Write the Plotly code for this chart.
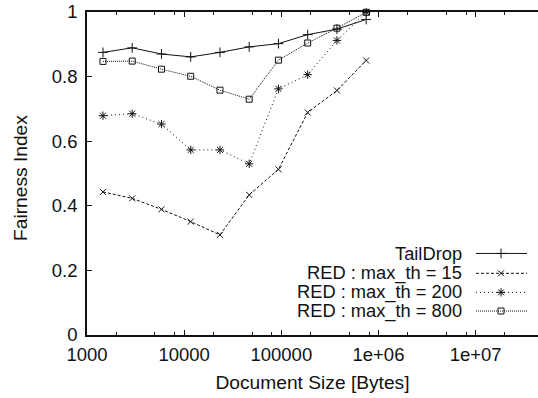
import plotly.graph_objects as go

# ---- data ----
doc_sizes = [1460, 2920, 5840, 11680, 23360, 46720, 93440, 186880, 373760, 747520]
taildrop = [0.875, 0.889, 0.870, 0.861, 0.875, 0.892, 0.902, 0.930, 0.947, 0.977]
red_15 = [0.443, 0.423, 0.389, 0.351, 0.310, 0.434, 0.513, 0.689, 0.757, 0.850]
red_200 = [0.679, 0.685, 0.653, 0.573, 0.573, 0.530, 0.762, 0.806, 0.912, 0.999]
red_800 = [0.847, 0.848, 0.823, 0.801, 0.758, 0.730, 0.851, 0.904, 0.950, 0.999]

series_names = ["TailDrop", "RED : max_th = 15", "RED : max_th = 200", "RED : max_th = 800"]
series_values = [taildrop, red_15, red_200, red_800]
series_dash = ["solid", "3px,2px", "1px,3px", "1px,1px"]
series_symbol = ["cross-thin-open", "x-thin-open", "asterisk-open", "square-open"]
series_msize = [7, 6, 7, 6]

x_tickvals = [1e3, 1e4, 1e5, 1e6, 1e7]
x_ticktext = ["1000", "10000", "100000", "1e+06", "1e+07"]
x_minor = [m * 10 ** e for e in range(3, 8) for m in (2, 5, 8)]
y_tickvals = [0, 0.2, 0.4, 0.6, 0.8, 1]
y_ticktext = ["0", "0.2", "0.4", "0.6", "0.8", "1"]

FONT = "Liberation Sans, Arial, Helvetica, sans-serif"
FS_TICK = 18.5
FS_TEXT = 19.2
FS_KEY = 18.3
BLACK = "#111111"

fig = go.Figure()
for name, vals, dash, sym, ms in zip(series_names, series_values, series_dash, series_symbol, series_msize):
    fig.add_trace(go.Scatter(
        x=doc_sizes, y=vals, mode="lines+markers", name=name, showlegend=False,
        line=dict(color=BLACK, width=1, dash=dash),
        marker=dict(symbol=sym, size=ms, color=BLACK, line=dict(color=BLACK, width=1)),
        cliponaxis=False,
    ))

# ---- gnuplot-style key (text right, sample left) on overlay axes ----
key_text_x = 0.8355
key_x0, key_x1, key_xm = 0.8625, 0.9756, 0.918
key_rows = [0.2525, 0.191, 0.132, 0.0743]
for name, dash, sym, ms, ky in zip(series_names, series_dash, series_symbol, series_msize, key_rows):
    fig.add_trace(go.Scatter(
        x=[key_x0, key_x1], y=[ky, ky], xaxis="x2", yaxis="y2", mode="lines",
        line=dict(color=BLACK, width=1, dash=dash), showlegend=False, hoverinfo="skip"))
    fig.add_trace(go.Scatter(
        x=[key_xm], y=[ky], xaxis="x2", yaxis="y2", mode="markers",
        marker=dict(symbol=sym, size=ms, color=BLACK, line=dict(color=BLACK, width=1)),
        showlegend=False, hoverinfo="skip"))
    fig.add_annotation(x=key_text_x, y=ky, xref="x2", yref="y2", text=name, showarrow=False,
                       xanchor="right", yanchor="middle",
                       font=dict(family=FONT, size=FS_KEY, color=BLACK))

# y-axis title placed like gnuplot's ylabel
fig.add_annotation(x=-0.1486, y=0.486, xref="paper", yref="paper", text="Fairness Index",
                   textangle=-90, showarrow=False, xanchor="center", yanchor="middle",
                   font=dict(family=FONT, size=FS_TEXT, color=BLACK))

fig.update_layout(
    width=538, height=398,
    margin=dict(l=87, r=0, t=12, b=63),
    paper_bgcolor="white", plot_bgcolor="white",
    font=dict(family=FONT, size=FS_TICK, color=BLACK),
    showlegend=False,
    xaxis=dict(
        type="log", range=[3, 7.642],
        tickmode="array", tickvals=x_tickvals, ticktext=x_ticktext,
        ticks="inside", ticklen=5, tickwidth=1, tickcolor=BLACK,
        ticklabelstandoff=2,
        minor=dict(tickmode="array", tickvals=x_minor, ticks="inside", ticklen=3,
                   tickwidth=1, tickcolor=BLACK, showgrid=False),
        showline=True, linecolor=BLACK, linewidth=1.5, mirror="ticks",
        showgrid=False, zeroline=False,
        title=dict(text="Document Size [Bytes]", font=dict(size=FS_TEXT), standoff=12),
    ),
    yaxis=dict(
        range=[0, 1],
        tickmode="array", tickvals=y_tickvals, ticktext=y_ticktext,
        ticks="inside", ticklen=5, tickwidth=1, tickcolor=BLACK,
        ticklabelstandoff=4,
        showline=True, linecolor=BLACK, linewidth=1.5, mirror=False,
        showgrid=False, zeroline=False,
    ),
    xaxis2=dict(overlaying="x", range=[0, 1], visible=False, fixedrange=True),
    yaxis2=dict(overlaying="y", range=[0, 1], visible=False, fixedrange=True),
)

fig.write_html("out.html")
